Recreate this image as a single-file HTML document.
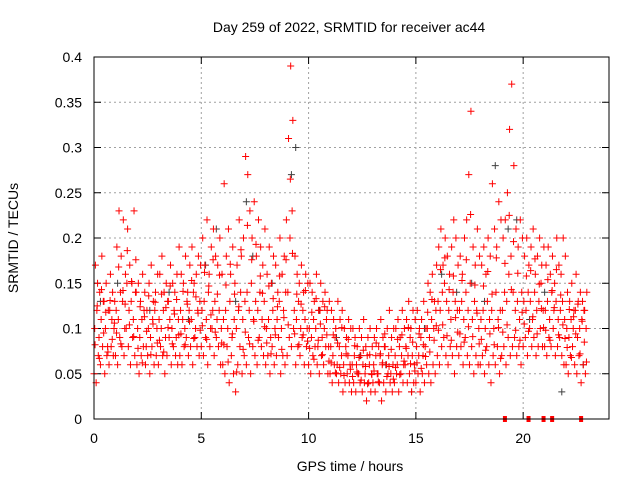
<!DOCTYPE html>
<html><head><meta charset="utf-8"><style>
body{margin:0;background:#fff}
svg{display:block;font-family:"Liberation Sans",sans-serif}
</style></head><body>
<svg id="chart" width="640" height="480" viewBox="0 0 640 480"></svg>
<script>
const xTicks=[0,5,10,15,20];
const yTicks=[0,0.05,0.1,0.15,0.2,0.25,0.3,0.35,0.4];
const yTickLabels=["0","0.05","0.1","0.15","0.2","0.25","0.3","0.35","0.4"];
const stepHours=0.1;
const redLow=[.05,.04,.07,.06,.08,.05,.07,.06,.08,.07,.07,.06,.09,.08,.07,.10,.08,.06,.09,.07,.06,.05,.07,.08,.06,.07,.05,.08,.06,.07,.06,.08,.07,.05,.07,.09,.06,.08,.07,.06,.07,.06,.08,.09,.07,.08,.06,.09,.08,.07,.08,.07,.09,.06,.08,.10,.07,.09,.08,.06,.06,.05,.08,.04,.07,.05,.03,.06,.08,.05,.07,.06,.09,.05,.08,.07,.06,.09,.08,.07,.06,.07,.05,.08,.06,.07,.09,.05,.07,.06,.07,.09,.08,.10,.06,.08,.07,.09,.06,.08,.06,.05,.07,.08,.06,.05,.07,.06,.08,.05,.05,.04,.06,.05,.04,.05,.03,.04,.05,.04,.03,.04,.03,.05,.04,.03,.04,.02,.04,.03,.04,.03,.05,.04,.02,.04,.03,.05,.04,.03,.04,.05,.03,.05,.04,.06,.04,.05,.03,.04,.04,.05,.03,.05,.04,.06,.05,.04,.06,.05,.07,.06,.08,.09,.07,.06,.08,.07,.05,.08,.07,.08,.06,.09,.07,.06,.08,.05,.07,.06,.06,.07,.05,.08,.06,.04,.07,.06,.08,.05,.07,.08,.06,.09,.07,.08,.09,.07,.08,.06,.08,.09,.07,.10,.08,.09,.07,.08,.10,.08,.08,.07,.09,.08,.10,.07,.08,.09,.07,.06,.06,.05,.07,.08,.06,.05,.07,.04,.06,.05];
const redMid=[.10,.12,.09,.11,.13,.10,.08,.12,.11,.10,.12,.11,.14,.13,.10,.15,.12,.13,.11,.14,.10,.09,.11,.12,.08,.10,.09,.11,.12,.10,.11,.10,.12,.09,.13,.11,.10,.12,.09,.11,.12,.11,.10,.13,.12,.11,.14,.10,.12,.13,.12,.13,.11,.14,.10,.12,.13,.11,.12,.10,.11,.12,.10,.13,.09,.11,.10,.12,.14,.11,.13,.14,.12,.15,.11,.13,.12,.14,.11,.13,.10,.11,.09,.12,.10,.11,.13,.10,.12,.14,.14,.20,.23,.12,.11,.13,.10,.12,.11,.10,.10,.09,.11,.10,.08,.12,.09,.10,.11,.08,.08,.07,.09,.06,.08,.07,.06,.08,.07,.06,.06,.07,.06,.05,.07,.06,.05,.07,.06,.05,.06,.07,.05,.07,.06,.08,.06,.07,.05,.06,.07,.06,.08,.07,.06,.08,.07,.09,.07,.06,.08,.07,.09,.07,.08,.10,.09,.11,.10,.12,.13,.12,.14,.15,.13,.12,.11,.14,.13,.12,.12,.13,.11,.14,.12,.15,.11,.13,.12,.10,.11,.12,.10,.13,.11,.12,.10,.14,.11,.12,.12,.14,.13,.16,.18,.14,.12,.13,.11,.14,.13,.12,.14,.13,.11,.14,.12,.13,.15,.12,.12,.13,.11,.14,.12,.13,.11,.12,.13,.11,.10,.09,.11,.10,.12,.09,.10,.11,.12,.10];
const redHigh=[.17,.15,.14,.18,.13,.15,.12,.16,.14,.13,.19,.23,.18,.22,.16,.21,.17,.15,.23,.14,.15,.13,.16,.14,.12,.15,.17,.13,.14,.16,.16,.18,.14,.15,.13,.17,.15,.14,.16,.19,.16,.15,.18,.14,.17,.19,.15,.16,.18,.17,.20,.17,.22,.16,.19,.21,.18,.17,.20,.16,.26,.18,.21,.16,.19,.15,.17,.22,.18,.20,.29,.27,.23,.20,.24,.18,.22,.19,.17,.21,.16,.19,.15,.18,.17,.14,.20,.16,.18,.22,.31,.39,.33,.18,.16,.15,.17,.14,.16,.15,.15,.14,.13,.16,.12,.15,.13,.14,.12,.13,.12,.11,.10,.13,.11,.12,.10,.09,.11,.10,.10,.09,.08,.10,.09,.11,.08,.09,.10,.08,.09,.10,.08,.11,.09,.08,.10,.12,.09,.10,.10,.11,.09,.12,.10,.11,.13,.10,.12,.11,.12,.10,.11,.13,.10,.15,.14,.16,.13,.17,.19,.21,.17,.20,.18,.16,.19,.22,.20,.17,.18,.16,.20,.22,.27,.34,.19,.17,.21,.18,.17,.19,.16,.20,.18,.26,.21,.19,.24,.22,.20,.22,.25,.32,.37,.28,.21,.19,.22,.20,.18,.20,.17,.19,.21,.16,.18,.20,.17,.19,.17,.19,.16,.18,.15,.20,.17,.16,.20,.18,.14,.13,.15,.12,.16,.13,.14,.13,.12,.14];
const redMid2=[.082,.125,.067,.143,.095,.118,.074,.131,.088,.106,.095,.168,.083,.142,.127,.186,.104,.152,.091,.176,.078,.124,.062,.113,.097,.136,.071,.105,.129,.084,.087,.138,.074,.123,.101,.147,.083,.116,.132,.093,.094,.141,.082,.127,.108,.153,.089,.135,.117,.098,.103,.162,.088,.147,.115,.176,.096,.138,.159,.084,.082,.148,.063,.171,.094,.138,.052,.124,.187,.077,.096,.214,.083,.176,.108,.193,.087,.158,.139,.102,.084,.147,.072,.133,.093,.124,.158,.077,.112,.176,.104,.265,.183,.094,.138,.082,.127,.093,.142,.086,.078,.118,.066,.133,.087,.105,.071,.124,.093,.064,.062,.093,.051,.084,.057,.101,.048,.072,.088,.055,.047,.081,.052,.068,.043,.076,.058,.039,.071,.049,.053,.084,.041,.072,.062,.094,.047,.058,.077,.044,.057,.088,.049,.093,.064,.078,.101,.061,.085,.053,.062,.094,.056,.082,.069,.118,.074,.132,.087,.103,.098,.165,.104,.178,.092,.143,.087,.158,.112,.096,.094,.153,.085,.176,.102,.226,.091,.148,.117,.083,.088,.147,.076,.163,.094,.138,.082,.178,.101,.067,.096,.172,.104,.225,.143,.196,.098,.161,.087,.118,.105,.158,.097,.164,.113,.177,.094,.149,.122,.101,.098,.154,.087,.142,.123,.165,.093,.137,.104,.089,.079,.121,.068,.113,.094,.127,.072,.108,.085,.063];
const blackTimes=[0.3,1.1,2.6,3.5,4.4,5.2,5.7,6.6,7.1,7.4,8.3,9.2,9.4,10.5,11.3,12.4,13.6,14.8,15.4,16.2,16.9,17.6,18.2,18.7,19.3,19.7,20.3,21.0,21.8,22.8];
const blackVals=[.13,.15,.12,.14,.11,.17,.21,.13,.24,.18,.15,.27,.30,.12,.09,.07,.06,.03,.10,.16,.14,.15,.13,.28,.21,.22,.11,.14,.03,.06];
const zeroTimes=[19.15,20.25,20.95,21.35,22.7];

const svg=document.getElementById('chart');
const NS='http://www.w3.org/2000/svg';
const L=94,R=609,T=57,B=419;
const xS=h=>L+h/24*(R-L);
const yS=v=>B-v/0.4*(B-T);
function mk(tag,attrs,parent){const e=document.createElementNS(NS,tag);for(const k in attrs)e.setAttribute(k,attrs[k]);(parent||svg).appendChild(e);return e;}

const grid=mk('g',{});


yTicks.forEach((v,i)=>{
  const y=yS(v);
  if(i>0&&i<yTicks.length-1){const g=mk('line',{x1:L,x2:R,y1:y,y2:y,stroke:'#a0a0a0','stroke-dasharray':'2,3','stroke-width':1},grid);}
  mk('line',{x1:L,x2:L+7,y1:y,y2:y,stroke:'#000'},grid);
  mk('line',{x1:R,x2:R-7,y1:y,y2:y,stroke:'#000'},grid);
  const t=mk('text',{x:L-12,y:y+5,'text-anchor':'end','font-size':14,fill:'#000'});
  t.textContent=yTickLabels[i];
  
  
});
xTicks.forEach(h=>{
  const x=xS(h);
  if(h>0){const g=mk('line',{x1:x,x2:x,y1:T,y2:B,stroke:'#a0a0a0','stroke-dasharray':'2,3','stroke-width':1},grid);}
  mk('line',{x1:x,x2:x,y1:B,y2:B-7,stroke:'#000'},grid);
  mk('line',{x1:x,x2:x,y1:T,y2:T+7,stroke:'#000'},grid);
  const t=mk('text',{x:x,y:443,'text-anchor':'middle','font-size':14,fill:'#000'});
  t.textContent=String(h);
  
  
});

function plus(x,y,color,g){mk('path',{d:`M${x-3.5},${y}H${x+3.5}M${x},${y-3.5}V${y+3.5}`,stroke:color,'stroke-width':1,fill:'none'},g);}
const bg=mk('g',{});


blackTimes.forEach((h,i)=>plus(xS(h),yS(blackVals[i]),'#404040',bg));
const rg=mk('g',{});


[[redLow,0],[redMid,0.033],[redHigh,0.066],[redMid2,0.05]].forEach(([arr,off])=>{
  arr.forEach((v,i)=>plus(xS(i*stepHours+off),yS(v),'#ff0000',rg));
});
zeroTimes.forEach(h=>{const r=mk('rect',{x:xS(h)-2,y:B-3,width:4,height:6,fill:'#ff0000'},rg);});

const frame=mk('rect',{x:L,y:T,width:R-L,height:B-T,fill:'none',stroke:'#000','stroke-width':1});



const title=mk('text',{x:349,y:32,'text-anchor':'middle','font-size':14,fill:'#000'});
title.textContent='Day 259 of 2022, SRMTID for receiver ac44';


const xl=mk('text',{x:350,y:471,'text-anchor':'middle','font-size':14,fill:'#000'});
xl.textContent='GPS time / hours';


const yl=mk('text',{x:18,y:238,'text-anchor':'middle','font-size':14,fill:'#000',transform:'rotate(-90 18 238)'});
yl.textContent='SRMTID / TECUs';


</script>
</body></html>
